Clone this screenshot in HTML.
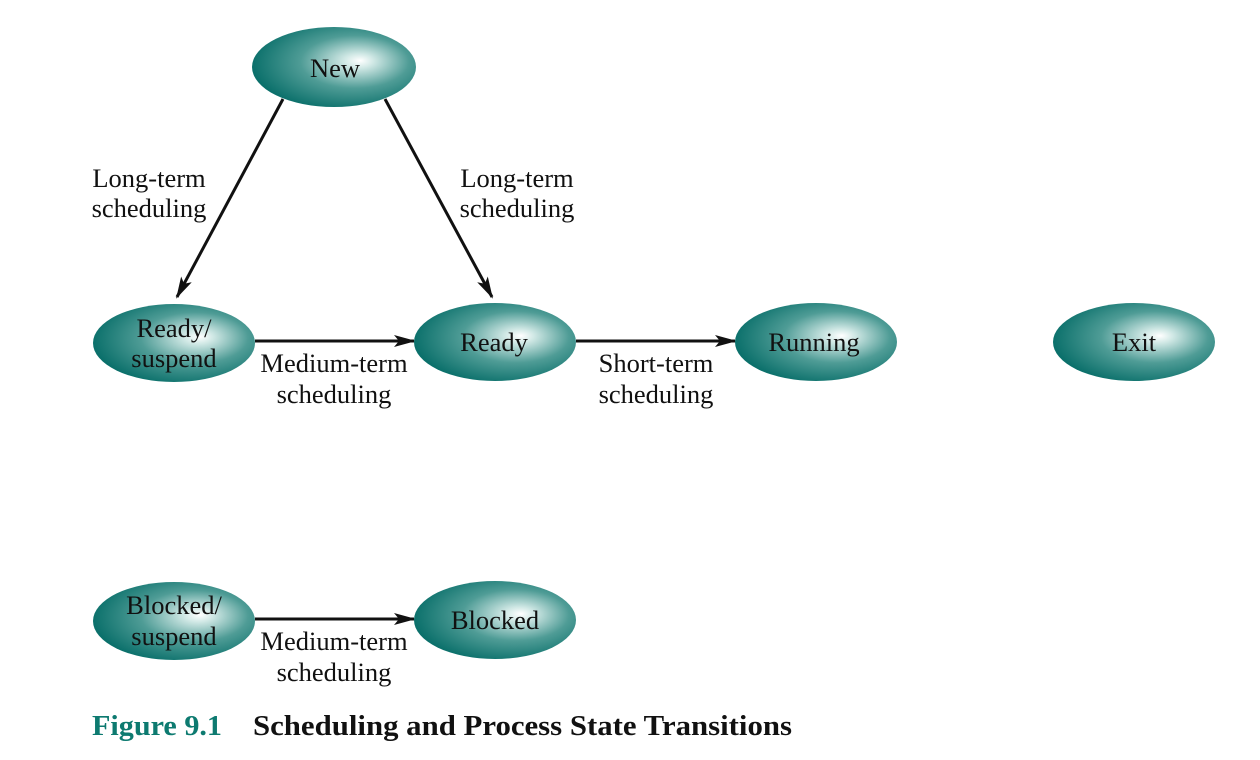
<!DOCTYPE html>
<html><head><meta charset="utf-8"><style>
html,body{margin:0;padding:0;background:#fff;}
svg{display:block;}
text{font-family:"Liberation Serif",serif;fill:#111;}
</style></head><body>
<svg width="1260" height="760" viewBox="0 0 1260 760" xmlns="http://www.w3.org/2000/svg">
<defs>
<radialGradient id="g" cx="0.6" cy="0.45" r="0.6" fx="0.66" fy="0.42">
<stop offset="0" stop-color="#ffffff"/>
<stop offset="0.15" stop-color="#d0e8e5"/>
<stop offset="0.55" stop-color="#4f9c96"/>
<stop offset="1" stop-color="#0b706b"/>
</radialGradient>
<marker id="a" markerWidth="22" markerHeight="12" refX="20" refY="6" orient="auto" markerUnits="userSpaceOnUse">
<path d="M0,0 L22,6 L0,12 L5,6 Z" fill="#111"/>
</marker>
</defs>
<g stroke="#111" stroke-width="3" fill="none">
<line x1="283" y1="99" x2="177" y2="297" marker-end="url(#a)"/>
<line x1="385" y1="99" x2="492" y2="297" marker-end="url(#a)"/>
<line x1="255" y1="341" x2="414" y2="341" marker-end="url(#a)"/>
<line x1="576" y1="341" x2="735" y2="341" marker-end="url(#a)"/>
<line x1="255" y1="619" x2="414" y2="619" marker-end="url(#a)"/>
</g>
<g fill="url(#g)">
<ellipse cx="334" cy="67" rx="82" ry="40"/>
<ellipse cx="174" cy="343" rx="81" ry="39"/>
<ellipse cx="495" cy="342" rx="81" ry="39"/>
<ellipse cx="816" cy="342" rx="81" ry="39"/>
<ellipse cx="1134" cy="342" rx="81" ry="39"/>
<ellipse cx="174" cy="621" rx="81" ry="39"/>
<ellipse cx="495" cy="620" rx="81" ry="39"/>
</g>
<g font-size="26.5" text-anchor="middle">
<text x="335" y="77">New</text>
<text x="174" y="337">Ready/</text>
<text x="174" y="367">suspend</text>
<text x="494" y="351">Ready</text>
<text x="814" y="351">Running</text>
<text x="1134" y="351">Exit</text>
<text x="174" y="614">Blocked/</text>
<text x="174" y="645">suspend</text>
<text x="495" y="629">Blocked</text>
<text x="149" y="187">Long-term</text>
<text x="149" y="217">scheduling</text>
<text x="517" y="187">Long-term</text>
<text x="517" y="217">scheduling</text>
<text x="334" y="372">Medium-term</text>
<text x="334" y="403">scheduling</text>
<text x="656" y="372">Short-term</text>
<text x="656" y="403">scheduling</text>
<text x="334" y="650">Medium-term</text>
<text x="334" y="681">scheduling</text>
</g>
<text x="92" y="735" font-size="28" font-weight="bold" style="fill:#0d7a70" textLength="130" lengthAdjust="spacingAndGlyphs">Figure 9.1</text>
<text x="253" y="735" font-size="28" font-weight="bold" textLength="539" lengthAdjust="spacingAndGlyphs">Scheduling and Process State Transitions</text>
</svg>
</body></html>
